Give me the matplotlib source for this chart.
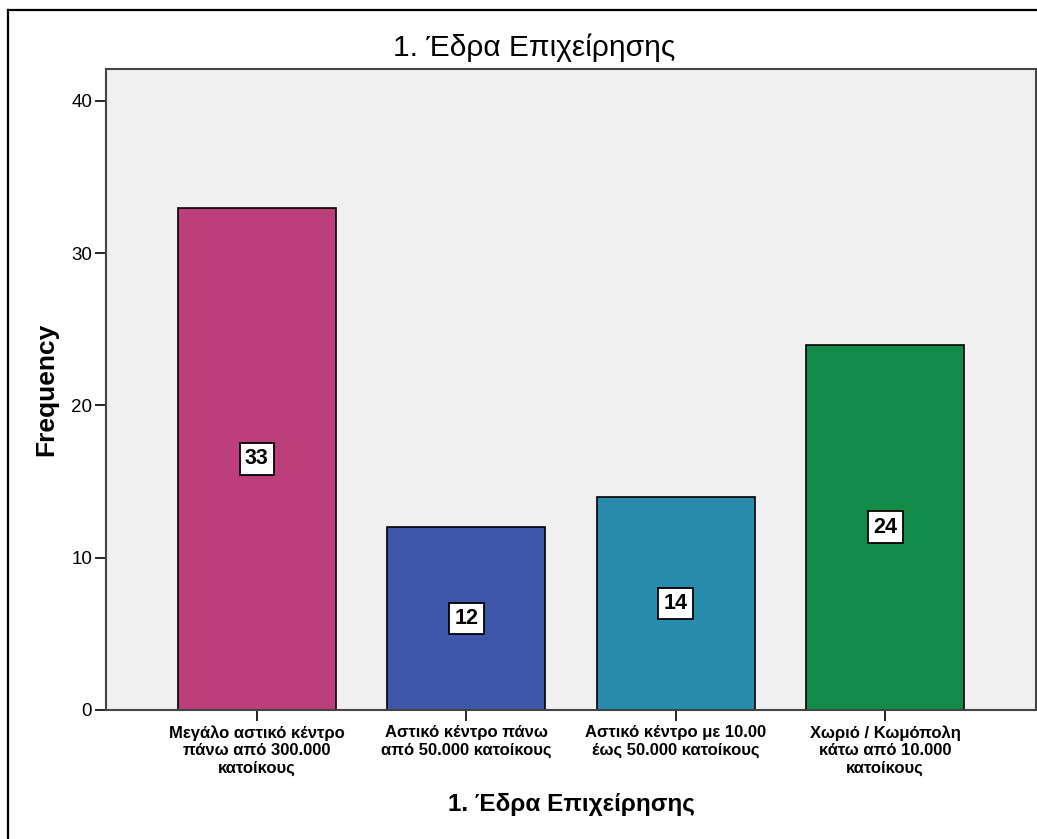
import matplotlib.pyplot as plt
from matplotlib.lines import Line2D

plt.rcParams['font.family'] = ['Liberation Sans', 'DejaVu Sans']

# Συχνότητες ανά έδρα επιχείρησης
categories = [
    'Μεγάλο αστικό κέντρο\nπάνω από 300.000\nκατοίκους',
    'Αστικό κέντρο πάνω\nαπό 50.000 κατοίκους',
    'Αστικό κέντρο με 10.00\nέως 50.000 κατοίκους',
    'Χωριό / Κωμόπολη\nκάτω από 10.000\nκατοίκους',
]
counts = [33, 12, 14, 24]
colors = ['#BA3F7B', '#3E57AA', '#278CAE', '#118C48']
yticks = [0, 10, 20, 30, 40]

fig = plt.figure(figsize=(10.37, 8.39), dpi=100)
ax = fig.add_axes([0.1022, 0.1538, 0.8968, 0.764])
ax.set_facecolor('#F0F0F0')

x = range(len(counts))
bars = ax.bar(x, counts, width=0.755, color=colors, edgecolor='black', linewidth=1.2)

# τιμή μέσα σε λευκό πλαίσιο στο μέσο κάθε στήλης
for b, v in zip(bars, counts):
    ax.text(b.get_x() + b.get_width() / 2, v / 2, str(v), ha='center', va='center',
            fontsize=15.5, fontweight='bold',
            bbox=dict(boxstyle='square,pad=0.25', facecolor='white', edgecolor='black', linewidth=1.3))

ax.set_xlim(-0.72, 3.72)
ax.set_ylim(0, 42.1)
ax.set_yticks(yticks)
ax.set_xticks(list(x))
ax.set_xticklabels(categories, fontsize=12, fontweight='bold', linespacing=1.2)
ax.tick_params(axis='y', direction='out', length=8, width=1.2, labelsize=13.5, pad=2)
ax.tick_params(axis='x', direction='out', length=8, width=1.2, pad=3)
for s in ax.spines.values():
    s.set_color('#444444')
    s.set_linewidth(1.5)

ax.set_ylabel('Frequency', fontsize=19, fontweight='bold', labelpad=9)
ax.set_xlabel('1. Έδρα Επιχείρησης', fontsize=17.5, fontweight='bold', labelpad=12)
fig.text(0.515, 0.943, '1. Έδρα Επιχείρησης', ha='center', va='center', fontsize=21.5)

# εξωτερικό πλαίσιο
fig.add_artist(Line2D([0.0077, 0.0077], [0, 0.988], color='black', linewidth=1.6))
fig.add_artist(Line2D([0.0077, 1], [0.988, 0.988], color='black', linewidth=1.6))

fig.savefig('out.png', dpi=100)
